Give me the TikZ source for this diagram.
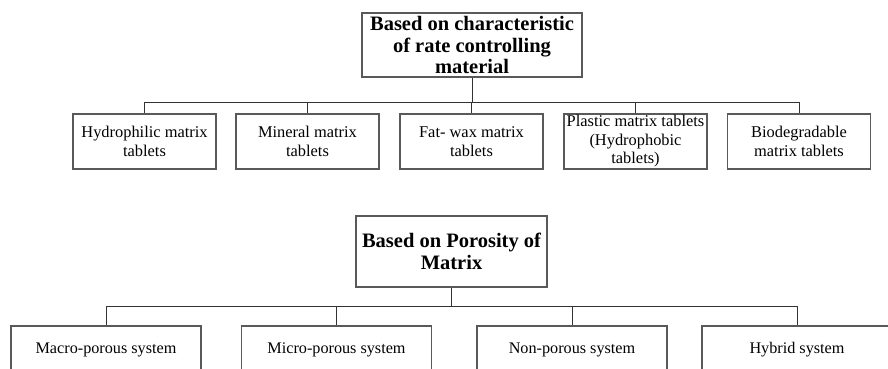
\documentclass[tikz,border=0pt]{standalone}
\usepackage{fontspec}
\setmainfont{Liberation Serif}
\begin{document}
\begin{tikzpicture}[x=1pt,y=-1pt,
  box/.style={draw=black!65, line width=1.1pt, fill=white, inner sep=0pt, align=center},
  headbox/.style={box, font=\fontsize{20.5}{21.5}\selectfont\bfseries},
  leafbox/.style={box, minimum width=143pt, minimum height=55pt, font=\fontsize{16.4}{18.5}\selectfont},
  sysbox/.style={box, minimum width=190pt, minimum height=48pt, font=\fontsize{16.2}{18}\selectfont},
  link/.style={draw=black!80, line width=1pt}]
\useasboundingbox (0,0) rectangle (888,369);
\clip (0,0) rectangle (888,369);

% Classification by rate controlling material
\node[headbox, minimum width=220pt, minimum height=64pt] (rc) at (472,45)
  {Based on characteristic\\of rate controlling\\material};
\node[leafbox] (hy) at (144.5,141.5) {Hydrophilic matrix\\tablets};
\node[leafbox] (mi) at (307.5,141.5) {Mineral matrix\\tablets};
\node[leafbox] (fw) at (471.5,141.5) {Fat- wax matrix\\tablets};
\node[leafbox] (pl) at (635.5,141.5) {Plastic matrix tablets\\(Hydrophobic\\tablets)};
\node[leafbox] (bd) at (799,141.5) {Biodegradable\\matrix tablets};

\coordinate (busA) at (472,102.5);
\draw[link] (rc.south) -- (rc.south |- busA);
\draw[link] (hy.north) -- (hy.north |- busA) -- (bd.north |- busA) -- (bd.north);
\foreach \n in {mi,fw,pl}
  \draw[link] (\n.north) -- (\n.north |- busA);

% Classification by porosity of matrix
\node[headbox, minimum width=191pt, minimum height=71pt] (po) at (451.5,251.5)
  {Based on Porosity of\\Matrix};
\node[sysbox] (ma) at (106,350) {Macro-porous system};
\node[sysbox] (mc) at (336.5,350) {Micro-porous system};
\node[sysbox] (np) at (572,350) {Non-porous system};
\node[sysbox] (hb) at (797,350) {Hybrid system};

\coordinate (busB) at (452,306.5);
\draw[link] (po.south) -- (po.south |- busB);
\draw[link] (ma.north) -- (ma.north |- busB) -- (hb.north |- busB) -- (hb.north);
\foreach \n in {mc,np}
  \draw[link] (\n.north) -- (\n.north |- busB);
\end{tikzpicture}
\end{document}
